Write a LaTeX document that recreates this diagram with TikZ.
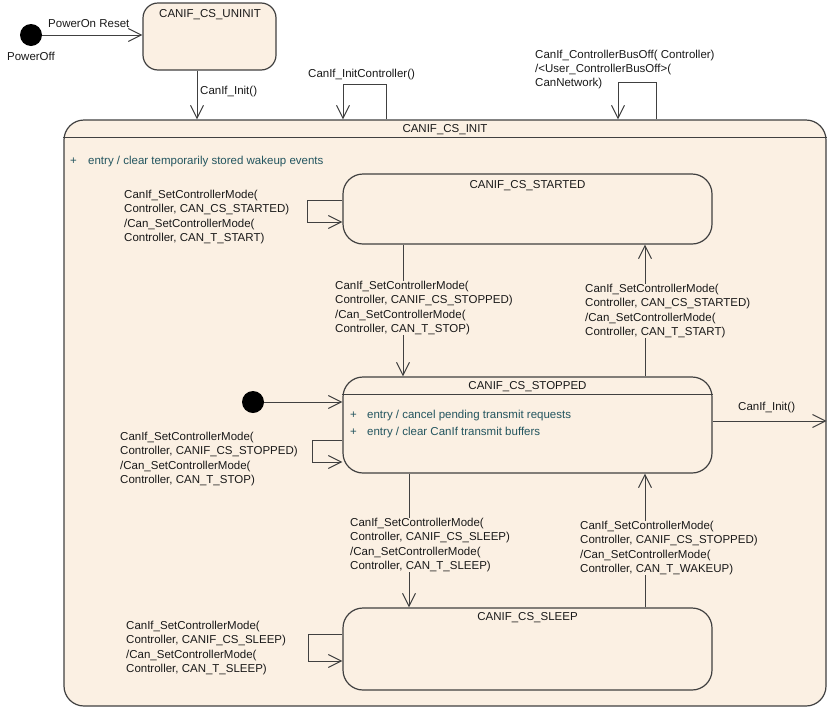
\documentclass[tikz,border=0pt]{standalone}
\usepackage{fontspec}
\setmainfont{Liberation Sans}
\usetikzlibrary{arrows.meta}
\definecolor{bg}{RGB}{251,240,227}
\definecolor{linec}{RGB}{64,64,64}
\definecolor{txt}{RGB}{25,25,25}
\definecolor{entryc}{RGB}{35,85,95}
\begin{document}
\begin{tikzpicture}[x=1pt,y=-1pt,
  stbox/.style={draw=linec, line width=1.2pt, fill=bg, rounded corners=20pt, inner sep=0pt},
  sepline/.style={draw=linec, line width=1.2pt},
  arr/.style={draw=linec, line width=1pt, -{Straight Barb[length=13pt,width=13pt]}},
  lbl/.style={anchor=north west, inner sep=0pt, align=left, text=txt, font=\fontsize{11.5}{14.6}\selectfont},
  lblf/.style={lbl, fill=bg},
  ttl/.style={anchor=north, inner sep=0pt, text=txt, font=\fontsize{11.5}{14.6}\selectfont},
  ent/.style={anchor=north west, inner sep=0pt, text=entryc, font=\fontsize{11.5}{14.6}\selectfont},
  dot/.style={circle, fill=black, minimum size=22pt, inner sep=0pt}]
\useasboundingbox (0,0) rectangle (840,718);

% outer state
\node[stbox, minimum width=762pt, minimum height=586pt] (init) at (445,413) {};
\draw[sepline] ([yshift=-18pt]init.north west) -- ([yshift=-18pt]init.north east);
\node[ttl] (initT) at (445,124.5) {CANIF\_CS\_INIT};
\node[ent] (initE) at (70,155.5) {\makebox[18pt][l]{+}entry / clear temporarily stored wakeup events};

% uninit
\node[stbox, rounded corners=15pt, minimum width=133pt, minimum height=67pt] (uninit) at (209.5,36.5) {};
\node[ttl] (uninitT) at (210,9.5) {CANIF\_CS\_UNINIT};
\node[dot] (pwr) at (31,35) {};
\node[ttl] (pwrL) at (31,52) {PowerOff};
\draw[arr] (pwr.east) -- (pwr.east -| uninit.west);
\node[lbl] (pwrOn) at (48,19.5) {PowerOn Reset};

\coordinate (xa) at (197,0);
\draw[arr] (uninit.south -| xa) -- (init.north -| xa);
\node[lbl] (initL) at (200,85.5) {CanIf\_Init()};

% loops on init
\coordinate (l1a) at (386,84);
\coordinate (l1b) at (343,0);
\draw[arr] (init.north -| l1a) -- (l1a) -| (init.north -| l1b);
\node[lbl] (l1L) at (308,68.5) {CanIf\_InitController()};
\coordinate (l2a) at (656,82);
\coordinate (l2b) at (618,0);
\draw[arr] (init.north -| l2a) -- (l2a) -| (init.north -| l2b);
\node[lbl, font=\fontsize{11.5}{14}\selectfont] (l2L) at (535,50) {CanIf\_ControllerBusOff( Controller)\\/<User\_ControllerBusOff>(\\CanNetwork)};

% inner states
\node[stbox, minimum width=369pt, minimum height=70pt] (started) at (527.5,209) {};
\node[ttl] (startedT) at (527.5,180) {CANIF\_CS\_STARTED};
\node[stbox, minimum width=369pt, minimum height=96pt] (stopped) at (527.5,425) {};
\draw[sepline] ([yshift=-18pt]stopped.north west) -- ([yshift=-18pt]stopped.north east);
\node[ttl] (stoppedT) at (527.5,381.5) {CANIF\_CS\_STOPPED};
\node[ent] (stE1) at (350,409.5) {\makebox[17pt][l]{+}entry / cancel pending transmit requests};
\node[ent] (stE2) at (350,426.5) {\makebox[17pt][l]{+}entry / clear CanIf transmit buffers};
\node[stbox, minimum width=369pt, minimum height=82pt] (sleep) at (527.5,649) {};
\node[ttl] (sleepT) at (527.5,612.5) {CANIF\_CS\_SLEEP};

% initial pseudo state inside
\node[dot] (init0) at (253,402) {};
\draw[arr] (init0.east) -- (init0.east -| stopped.west);

% self loops
\draw[arr] ([yshift=9pt]started.west) -- ++(-35,0) |- ([yshift=-13pt]started.west);
\draw[arr] ([yshift=-15pt]stopped.west) -- ++(-30,0) |- ([yshift=-37pt]stopped.west);
\draw[arr] ([yshift=15pt]sleep.west) -- ++(-34,0) |- ([yshift=-12pt]sleep.west);

% vertical transitions
\coordinate (x1) at (403,0);
\coordinate (x2) at (645,0);
\coordinate (x3) at (409,0);
\draw[arr] (started.south -| x1) -- (stopped.north -| x1);
\draw[arr] (stopped.north -| x2) -- (started.south -| x2);
\draw[arr] (stopped.south -| x3) -- (sleep.north -| x3);
\draw[arr] (sleep.north -| x2) -- (stopped.south -| x2);

% exit
\draw[arr] ([yshift=4pt]stopped.east) -- ([yshift=4pt]stopped.east -| init.east);
\node[lbl] (exitL) at (738,401.5) {CanIf\_Init()};

% transition labels
\node[lblf] (lStarted) at (124,189.5) {CanIf\_SetControllerMode(\\Controller, CAN\_CS\_STARTED)\\/Can\_SetControllerMode(\\Controller, CAN\_T\_START)};
\node[lblf] (lMidL) at (335,280.5) {CanIf\_SetControllerMode(\\Controller, CANIF\_CS\_STOPPED)\\/Can\_SetControllerMode(\\Controller, CAN\_T\_STOP)};
\node[lblf] (lMidR) at (585,283.5) {CanIf\_SetControllerMode(\\Controller, CAN\_CS\_STARTED)\\/Can\_SetControllerMode(\\Controller, CAN\_T\_START)};
\node[lblf] (lStopped) at (120,431.5) {CanIf\_SetControllerMode(\\Controller, CANIF\_CS\_STOPPED)\\/Can\_SetControllerMode(\\Controller, CAN\_T\_STOP)};
\node[lblf] (lLowL) at (350,517.5) {CanIf\_SetControllerMode(\\Controller, CANIF\_CS\_SLEEP)\\/Can\_SetControllerMode(\\Controller, CAN\_T\_SLEEP)};
\node[lblf] (lLowR) at (580,520.5) {CanIf\_SetControllerMode(\\Controller, CANIF\_CS\_STOPPED)\\/Can\_SetControllerMode(\\Controller, CAN\_T\_WAKEUP)};
\node[lblf] (lSleep) at (126,620.5) {CanIf\_SetControllerMode(\\Controller, CANIF\_CS\_SLEEP)\\/Can\_SetControllerMode(\\Controller, CAN\_T\_SLEEP)};
\end{tikzpicture}
\end{document}
